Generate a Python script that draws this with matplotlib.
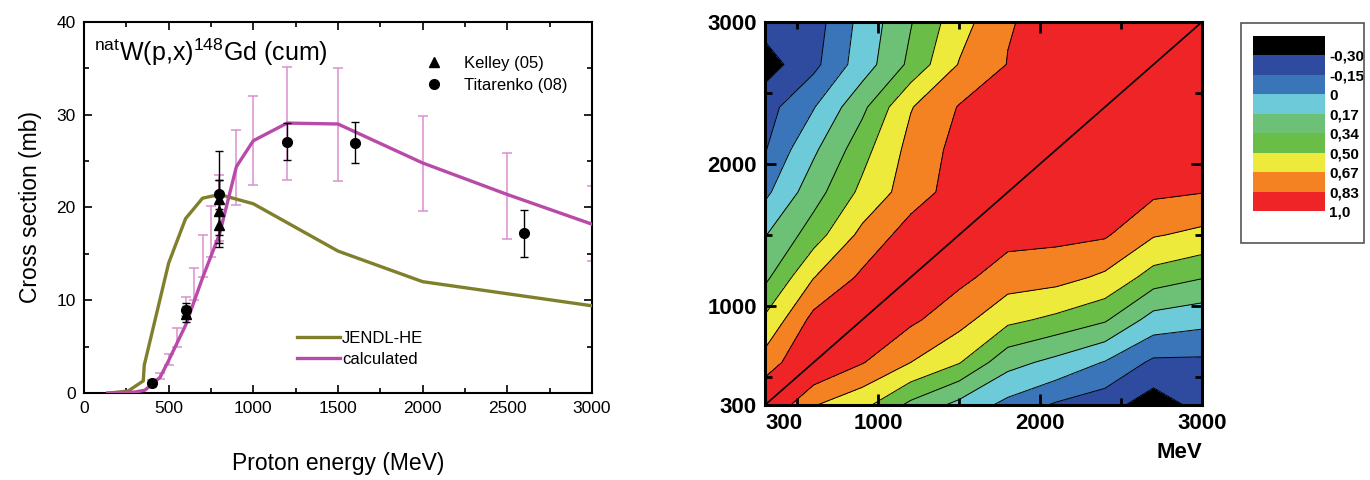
import matplotlib
matplotlib.use('Agg')
import matplotlib.pyplot as plt
import numpy as np
from matplotlib.patches import Rectangle
from matplotlib.lines import Line2D

plt.rcParams['font.family'] = ['Liberation Sans', 'DejaVu Sans']
plt.rcParams['mathtext.fontset'] = 'custom'
plt.rcParams['mathtext.rm'] = 'Liberation Sans'
plt.rcParams['contour.negative_linestyle'] = 'solid'

# ---- left panel: cross section data ----
jendl_E = [150, 260, 350, 356, 500, 600, 700, 800, 1000, 1500, 2000, 3000]
jendl_xs = [0.0, 0.2, 1.3, 3.0, 14.0, 18.8, 21.0, 21.4, 20.4, 15.3, 12.0, 9.4]

calc_E = [140, 300, 360, 450, 500, 600, 700, 800, 900, 1000, 1200, 1500, 2000, 2500, 3000]
calc_xs = [0.0, 0.1, 0.3, 1.7, 3.5, 7.3, 12.4, 17.1, 24.4, 27.2, 29.1, 29.0, 24.8, 21.4, 18.2]

# uncertainty band of the calculation (low / high ends)
calc_err_E = [400, 450, 500, 550, 600, 650, 700, 750, 800, 900, 1000, 1200, 1500, 2000, 2500, 3000]
calc_err_lo = [0.6, 1.5, 3.0, 5.0, 8.3, 10.0, 12.5, 14.7, 16.4, 20.3, 22.4, 23.0, 22.9, 19.6, 16.6, 14.2]
calc_err_hi = [1.4, 2.1, 4.2, 7.0, 10.4, 13.5, 17.0, 20.2, 23.5, 28.3, 32.0, 35.2, 35.0, 29.9, 25.9, 22.3]

kelley_E = [600, 800, 800, 800]
kelley_xs = [8.5, 18.1, 19.6, 20.9]
kelley_err = [0.9, 1.1, 3.4, 5.2]

tit_E = [400, 600, 800, 1200, 1600, 2600]
tit_xs = [1.1, 9.0, 21.4, 27.1, 27.0, 17.2]
tit_err = [0.2, 0.7, 1.6, 2.0, 2.2, 2.5]

# ---- right panel: correlation matrix ----
grid_E = [300, 600, 900, 1200, 1500, 1800, 2100, 2400, 2700, 3000]
corr = [
    [1.00, 0.68, 0.55, 0.30, 0.12, -0.05, -0.17, -0.24, -0.38, -0.25],
    [0.74, 1.00, 0.84, 0.67, 0.51, 0.23, 0.12, -0.01, -0.18, -0.18],
    [0.53, 0.88, 1.00, 0.86, 0.73, 0.54, 0.46, 0.36, 0.10, 0.05],
    [0.30, 0.665, 0.86, 1.00, 0.87, 0.755, 0.73, 0.64, 0.43, 0.35],
    [0.16, 0.42, 0.715, 0.90, 1.00, 0.88, 0.87, 0.85, 0.685, 0.63],
    [-0.04, 0.27, 0.54, 0.755, 0.90, 1.00, 0.93, 0.92, 0.86, 0.835],
    [-0.16, 0.14, 0.44, 0.725, 0.88, 0.93, 1.00, 0.96, 0.92, 0.90],
    [-0.21, -0.01, 0.30, 0.66, 0.84, 0.90, 0.95, 1.00, 0.96, 0.94],
    [-0.37, -0.19, 0.08, 0.38, 0.68, 0.835, 0.88, 0.93, 1.00, 0.97],
    [-0.24, -0.22, 0.05, 0.33, 0.60, 0.82, 0.88, 0.92, 0.96, 1.00],
]
levels = [-0.5, -0.30, -0.15, 0.0, 0.17, 0.34, 0.50, 0.67, 0.83, 1.0]
level_labels = ['-0,30', '-0,15', '0', '0,17', '0,34', '0,50', '0,67', '0,83', '1,0']
level_colors = ['#000000', '#2e4b9f', '#3a75b9', '#6dcbd9', '#6dc176',
                '#6abd46', '#eeea3b', '#f58222', '#ee2426']


fig = plt.figure(figsize=(13.7, 4.8), dpi=100)

# ================= left panel =================
ax = fig.add_axes([0.0613, 0.1813, 0.3708, 0.7729])

lo = np.array(calc_err_lo)
hi = np.array(calc_err_hi)
ax.errorbar(calc_err_E, (lo + hi) / 2, yerr=(hi - lo) / 2, fmt='none',
            ecolor='#da8fd0', elinewidth=1.1, capsize=3.5, capthick=1.1, zorder=2)
ax.plot(jendl_E, jendl_xs, color='#7f7f2c', lw=2.4, zorder=3)
ax.plot(calc_E, calc_xs, color='#b84aa8', lw=2.4, zorder=3)
ax.errorbar(kelley_E, kelley_xs, yerr=kelley_err, fmt='^', color='k', ms=7,
            elinewidth=1, capsize=3, zorder=4)
ax.errorbar(tit_E, tit_xs, yerr=tit_err, fmt='o', color='k', ms=7,
            elinewidth=1, capsize=3, zorder=4)

ax.set_xlim(0, 3000)
ax.set_ylim(0, 40)
ax.set_xticks(np.arange(0, 3001, 500))
ax.set_xticks(np.arange(250, 3000, 500), minor=True)
ax.set_yticks(np.arange(0, 41, 10))
ax.set_yticks(np.arange(5, 40, 10), minor=True)
ax.tick_params(which='both', direction='in', top=True, right=True, labelsize=12.5, width=1.2)
ax.tick_params(which='major', length=6, pad=6)
ax.tick_params(which='minor', length=3.5)
for s in ax.spines.values():
    s.set_linewidth(1.5)
ax.set_xlabel('Proton energy (MeV)', fontsize=16.5, labelpad=26)
ax.set_ylabel('Cross section (mb)', fontsize=16.5, labelpad=10)
ax.text(0.02, 0.895, r'$^{\mathrm{nat}}$W(p,x)$^{\mathrm{148}}$Gd (cum)',
        transform=ax.transAxes, fontsize=18)

mk = [Line2D([], [], marker='^', color='k', ls='', ms=7),
      Line2D([], [], marker='o', color='k', ls='', ms=7)]
leg1 = ax.legend(mk, ['Kelley (05)', 'Titarenko (08)'], loc='upper left',
                 bbox_to_anchor=(0.64, 0.95), frameon=False, fontsize=12,
                 handlelength=1.2, handletextpad=1.2, labelspacing=0.45)
ax.add_artist(leg1)
ln = [Line2D([], [], color='#7f7f2c', lw=2.4), Line2D([], [], color='#b84aa8', lw=2.4)]
ax.legend(ln, ['JENDL-HE', 'calculated'], loc='lower left',
          bbox_to_anchor=(0.39, 0.03), frameon=False, fontsize=12,
          handlelength=2.6, handletextpad=0.1, labelspacing=0.35)

# ================= right panel =================
ax2 = fig.add_axes([0.5584, 0.1563, 0.319, 0.798])
Z = np.array(corr)
cf = ax2.contourf(grid_E, grid_E, Z, levels=levels, colors=level_colors)
ax2.contour(grid_E, grid_E, Z, levels=levels[1:-1], colors='k', linewidths=0.7)
ax2.plot(grid_E, grid_E, color='k', lw=1.2)

ax2.set_xlim(300, 3000)
ax2.set_ylim(300, 3000)
ax2.set_xticks([300, 1000, 2000, 3000])
ax2.set_yticks([300, 1000, 2000, 3000])
ax2.set_xticks([500, 1500, 2500], minor=True)
ax2.set_yticks([500, 1500, 2500], minor=True)
ax2.tick_params(which='both', direction='in', top=True, right=True, width=2)
ax2.tick_params(which='major', length=8, labelsize=16, pad=6)
ax2.tick_params(which='minor', length=5)
for lab in ax2.get_xticklabels() + ax2.get_yticklabels():
    lab.set_fontweight('bold')
ax2.get_xticklabels()[0].set_horizontalalignment('left')
for s in ax2.spines.values():
    s.set_linewidth(2.2)
ax2.text(1.0, -0.125, 'MeV', transform=ax2.transAxes, ha='right', va='center',
         fontsize=16, fontweight='bold')

# colour key in a framed box
cax = fig.add_axes([0.9146, 0.5604, 0.0526, 0.3646])
cb = fig.colorbar(cf, cax=cax, ticks=levels[1:], spacing='uniform')
cb.ax.set_yticklabels(level_labels)
cax.invert_yaxis()
cb.outline.set_visible(False)
cax.tick_params(length=0, labelsize=11, pad=3)
for lab in cax.get_yticklabels():
    lab.set_fontweight('bold')
fig.add_artist(Rectangle((0.9058, 0.4938), 0.0898, 0.4583, transform=fig.transFigure,
                         fill=False, edgecolor='#555555', lw=1.2))

fig.savefig('out.png', dpi=100)
